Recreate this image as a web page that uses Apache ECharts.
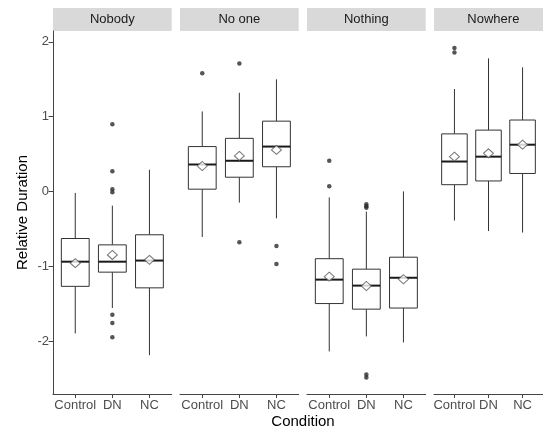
<!DOCTYPE html>
<html><head><meta charset="utf-8">
<script src="https://cdn.jsdelivr.net/npm/echarts@6/dist/echarts.min.js"></script>
<style>html,body{margin:0;padding:0;background:#fff}#c{width:543px;height:428px}</style>
</head><body><div id="c"></div>
<script>
const panels = ['Nobody', 'No one', 'Nothing', 'Nowhere'];
const categories = ['Control', 'DN', 'NC'];
const yTicks = [-2, -1, 0, 1, 2];

// box stats per category: [lower whisker, Q1, median, Q3, upper whisker]
const nobodyBox  = [[-1.90, -1.27, -0.94, -0.63, -0.02], [-1.56, -1.08, -0.94, -0.715, -0.19], [-2.19, -1.29, -0.925, -0.58, 0.29]];
const noOneBox   = [[-0.61, 0.03, 0.36, 0.60, 1.07], [-0.15, 0.19, 0.41, 0.71, 1.32], [-0.36, 0.33, 0.60, 0.94, 1.50]];
const nothingBox = [[-2.14, -1.50, -1.18, -0.90, -0.08], [-1.94, -1.575, -1.26, -1.04, -0.27], [-2.02, -1.56, -1.155, -0.88, 0.00]];
const nowhereBox = [[-0.39, 0.09, 0.40, 0.77, 1.37], [-0.53, 0.14, 0.465, 0.82, 1.78], [-0.55, 0.24, 0.625, 0.955, 1.66]];

// means per category
const nobodyMean  = [-0.96, -0.85, -0.915];
const noOneMean   = [0.34, 0.475, 0.555];
const nothingMean = [-1.14, -1.265, -1.175];
const nowhereMean = [0.465, 0.51, 0.625];

// outliers: [category index, value]
const nobodyOut  = [[1, 0.90], [1, 0.27], [1, 0.03], [1, -0.01], [1, -1.65], [1, -1.76], [1, -1.95]];
const noOneOut   = [[0, 1.58], [1, 1.71], [1, -0.68], [2, -0.73], [2, -0.97]];
const nothingOut = [[0, 0.41], [0, 0.07], [1, -0.17], [1, -0.20], [1, -0.22], [1, -2.45], [1, -2.49]];
const nowhereOut = [[0, 1.92], [0, 1.86]];

const boxes = [nobodyBox, noOneBox, nothingBox, nowhereBox];
const means = [nobodyMean, noOneMean, nothingMean, nowhereMean];
const outs = [nobodyOut, noOneOut, nothingOut, nowhereOut];

const FONT = '"Liberation Sans", Arial, sans-serif';
const panelLeft = [53, 180, 307, 434];
const panelW = 118.7;
const gridTop = 31, gridH = 363;
const yMin = -2.71, yMax = 2.146;

const grids = [], xAxes = [], yAxes = [], series = [], graphics = [];
panels.forEach((name, i) => {
  grids.push({left: panelLeft[i], top: gridTop, width: panelW, height: gridH, containLabel: false});
  xAxes.push({
    type: 'value', gridIndex: i, min: 0.4, max: 3.6,
    axisLine: {show: true, onZero: false, lineStyle: {color: '#444', width: 1}},
    axisTick: {show: true, length: 4, customValues: [1, 2, 3], lineStyle: {color: '#444', width: 1}},
    axisLabel: {show: true, customValues: [1, 2, 3], margin: 5, fontFamily: FONT, fontSize: 13, color: '#4d4d4d',
      formatter: v => categories[Math.round(v) - 1]},
    splitLine: {show: false}
  });
  yAxes.push(i === 0 ? {
    type: 'value', gridIndex: i, min: yMin, max: yMax,
    name: 'Relative Duration', nameLocation: 'middle', nameGap: 23,
    nameTextStyle: {fontFamily: FONT, fontSize: 15, color: '#000'},
    axisLine: {show: true, onZero: false, lineStyle: {color: '#444', width: 1}},
    axisTick: {show: true, length: 4.5, customValues: yTicks, lineStyle: {color: '#444', width: 1}},
    axisLabel: {show: true, customValues: yTicks, margin: 4, fontFamily: FONT, fontSize: 13, color: '#4d4d4d'},
    splitLine: {show: false}
  } : {
    type: 'value', gridIndex: i, min: yMin, max: yMax, show: false, splitLine: {show: false}
  });
  series.push({
    type: 'custom', xAxisIndex: i, yAxisIndex: i, silent: true, z: 2,
    data: boxes[i].map((b, j) => [j + 1].concat(b)),
    encode: {x: 0, y: [1, 2, 3, 4, 5]},
    renderItem: function (params, api) {
      const x = api.value(0);
      const p = [1, 2, 3, 4, 5].map(k => api.coord([x, api.value(k)]));
      const half = api.size([0.75, 0])[0] / 2;
      const cx = p[0][0];
      const ls = {stroke: '#333', lineWidth: 1, fill: null};
      return {type: 'group', children: [
        {type: 'line', shape: {x1: cx, y1: p[0][1], x2: cx, y2: p[1][1]}, style: ls},
        {type: 'line', shape: {x1: cx, y1: p[3][1], x2: cx, y2: p[4][1]}, style: ls},
        {type: 'rect', shape: {x: cx - half, y: p[3][1], width: half * 2, height: p[1][1] - p[3][1]},
          style: {stroke: '#333', lineWidth: 1, fill: '#fff'}},
        {type: 'line', shape: {x1: cx - half, y1: p[2][1], x2: cx + half, y2: p[2][1]},
          style: {stroke: '#1a1a1a', lineWidth: 2, fill: null}}
      ]};
    }
  });
  series.push({
    type: 'scatter', xAxisIndex: i, yAxisIndex: i, silent: true, z: 3,
    symbol: 'circle', symbolSize: 4.5,
    itemStyle: {color: '#2a2a2a'},
    data: outs[i].map(o => [o[0] + 1, o[1]])
  });
  series.push({
    type: 'scatter', xAxisIndex: i, yAxisIndex: i, silent: true, z: 4,
    symbol: 'diamond', symbolSize: [10, 9],
    itemStyle: {color: '#fff', borderColor: '#555', borderWidth: 1},
    data: means[i].map((m, j) => [j + 1, m])
  });
  graphics.push({type: 'rect', left: panelLeft[i], top: 8, shape: {x: 0, y: 0, width: panelW, height: 23},
    style: {fill: '#d9d9d9'}, silent: true});
  graphics.push({type: 'text', x: panelLeft[i] + panelW / 2, y: 19.5,
    style: {text: name, font: '13px ' + FONT, fill: '#1a1a1a', textAlign: 'center', textVerticalAlign: 'middle'}, silent: true});
});
graphics.push({type: 'text', x: 303, y: 422,
  style: {text: 'Condition', font: '15px ' + FONT, fill: '#000', textAlign: 'center', textVerticalAlign: 'middle'}, silent: true});

const chart = echarts.init(document.getElementById('c'), null, {renderer: 'canvas'});
chart.setOption({
  animation: false,
  backgroundColor: '#fff',
  grid: grids, xAxis: xAxes, yAxis: yAxes, series: series, graphic: graphics
});
</script></body></html>
